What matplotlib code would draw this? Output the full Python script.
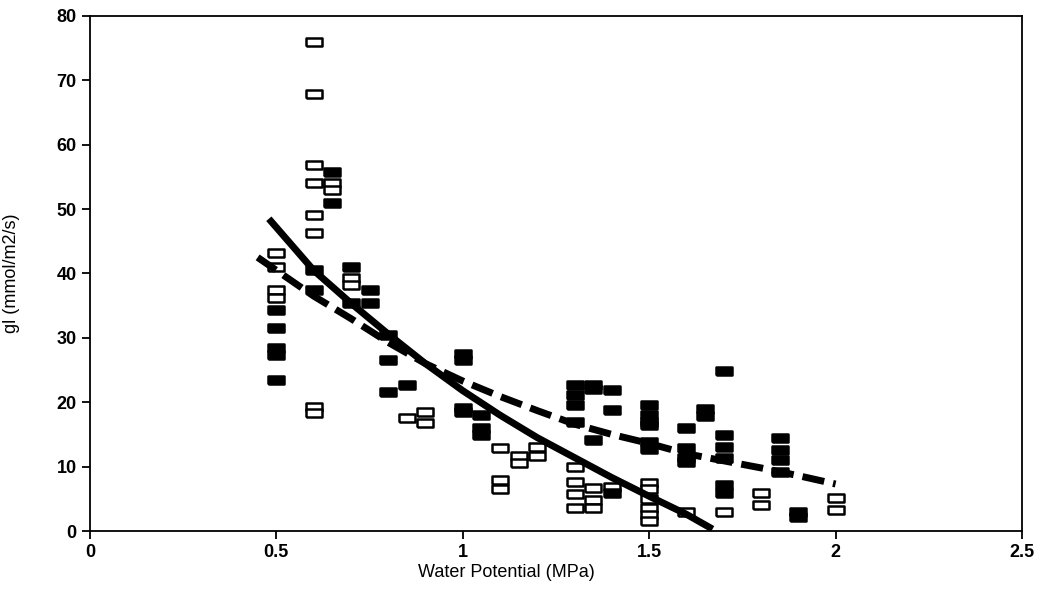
import matplotlib
matplotlib.use("Agg")
import matplotlib.pyplot as plt

plt.rcParams['font.family'] = ['Liberation Sans', 'DejaVu Sans']

# open squares
open_x = [0.5, 0.5, 0.5, 0.5,
          0.6, 0.6, 0.6, 0.6, 0.6, 0.6, 0.6, 0.6,
          0.65, 0.65, 0.7, 0.7, 0.85, 0.9, 0.9,
          1.1, 1.1, 1.1, 1.15, 1.15, 1.2, 1.2,
          1.3, 1.3, 1.3, 1.3, 1.35, 1.35, 1.35, 1.4,
          1.5, 1.5, 1.5, 1.5, 1.5, 1.5,
          1.6, 1.7, 1.8, 1.8, 2.0, 2.0]
open_y = [43.2, 41.0, 37.4, 36.2,
          75.9, 67.9, 56.8, 54.0, 49.1, 46.3, 19.3, 18.3,
          54.0, 53.0, 39.3, 38.2, 17.5, 18.5, 16.8,
          12.9, 7.9, 6.5, 11.6, 10.6, 13.0, 11.6,
          9.9, 7.6, 5.7, 3.6, 6.7, 4.8, 3.6, 6.8,
          7.5, 6.5, 5.0, 3.5, 2.5, 1.5,
          2.9, 3.0, 5.9, 4.0, 5.1, 3.3]

# filled squares
fill_x = [0.5, 0.5, 0.5, 0.5, 0.5,
          0.6, 0.6, 0.65, 0.65, 0.7, 0.7, 0.75, 0.75,
          0.8, 0.8, 0.8, 0.85,
          1.0, 1.0, 1.0, 1.0, 1.05, 1.05, 1.05,
          1.3, 1.3, 1.3, 1.3, 1.35, 1.35, 1.35,
          1.4, 1.4, 1.4,
          1.5, 1.5, 1.5, 1.5, 1.5, 1.5,
          1.6, 1.6, 1.6, 1.6, 1.65, 1.65,
          1.7, 1.7, 1.7, 1.7, 1.7, 1.7,
          1.85, 1.85, 1.85, 1.85, 1.9, 1.9]
fill_y = [34.3, 31.5, 28.4, 27.3, 23.4,
          40.5, 37.4, 55.8, 51.0, 41.0, 35.4, 37.4, 35.4,
          30.4, 26.6, 21.6, 22.7,
          27.5, 26.5, 19.1, 18.5, 18.0, 16.0, 14.9,
          22.7, 21.1, 19.6, 16.9, 22.7, 22.0, 14.1,
          21.9, 18.8, 5.9,
          19.5, 18.0, 17.0, 16.5, 13.8, 12.8,
          16.0, 12.9, 11.3, 10.7, 19.0, 17.8,
          24.8, 14.9, 13.0, 11.3, 7.1, 5.9,
          14.4, 12.6, 11.0, 9.2, 2.9, 2.2]

# fitted curves
solid_x = [0.48, 0.6, 0.7, 0.8, 0.9, 1.0, 1.1, 1.2, 1.3, 1.4, 1.5, 1.6, 1.67]
solid_y = [48.5, 40.5, 35.4, 30.6, 26.0, 21.8, 18.0, 14.5, 11.4, 8.3, 5.4, 2.6, 0.3]

dash_x = [0.45, 0.6, 0.7, 0.8, 0.9, 1.0, 1.1, 1.2, 1.3, 1.4, 1.5, 1.6, 1.7, 1.8, 1.9, 2.0]
dash_y = [42.5, 36.5, 33.0, 29.3, 26.0, 23.3, 20.9, 18.7, 16.6, 15.0, 13.6, 12.0, 10.9, 9.8, 8.6, 7.3]

rect = [(-1, -0.55), (1, -0.55), (1, 0.55), (-1, 0.55), (-1, -0.55)]

fig = plt.figure(figsize=(10.45, 5.91), dpi=100)
ax = fig.add_axes([0.086, 0.1015, 0.892, 0.8715])

ax.plot(open_x, open_y, linestyle='none', marker=rect, markersize=11.5,
        markerfacecolor='white', markeredgecolor='black', markeredgewidth=1.8, zorder=3)
ax.plot(fill_x, fill_y, linestyle='none', marker=rect, markersize=11.5,
        markerfacecolor='black', markeredgecolor='black', markeredgewidth=1.8, zorder=3)
ax.plot(solid_x, solid_y, color='black', linewidth=5, solid_capstyle='butt', zorder=4)
ax.plot(dash_x, dash_y, color='black', linewidth=5, dashes=(3.2, 1.3), zorder=4)

ax.set_xlim(0, 2.5)
ax.set_ylim(0, 80)
ax.set_xticks([0, 0.5, 1, 1.5, 2, 2.5])
ax.set_xticklabels(['0', '0.5', '1', '1.5', '2', '2.5'])
ax.set_yticks(range(0, 81, 10))
ax.tick_params(direction='out', length=6, width=1.3, labelsize=13)
for lab in ax.get_xticklabels() + ax.get_yticklabels():
    lab.set_fontweight('bold')
for s in ax.spines.values():
    s.set_linewidth(1.3)

ax.set_xlabel('Water Potential (MPa)', fontsize=13)
ax.xaxis.set_label_coords(0.447, -0.065)
ax.set_ylabel('gl (mmol/m2/s)', fontsize=13)
ax.yaxis.set_label_coords(-0.075, 0.5)

fig.savefig('out.png', dpi=100)
